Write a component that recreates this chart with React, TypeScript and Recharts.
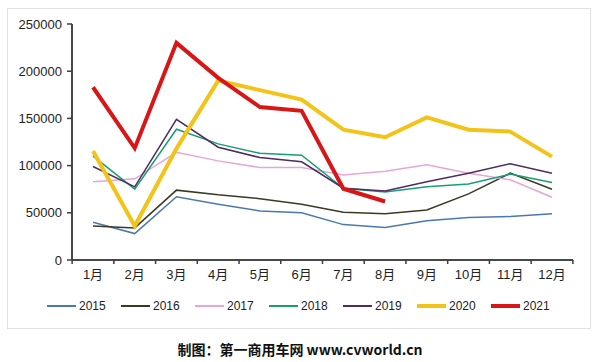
import React from "react";
import { LineChart, Line, XAxis, YAxis, CartesianGrid } from "recharts";

const months = ["1月", "2月", "3月", "4月", "5月", "6月", "7月", "8月", "9月", "10月", "11月", "12月"];

const y2015 = [40000, 28000, 67000, 59000, 52000, 50000, 37500, 34500, 41500, 45000, 46000, 49000];
const y2016 = [36000, 34000, 74000, 69000, 65000, 59000, 50500, 49000, 53000, 70000, 92000, 75000];
const y2017 = [83000, 86000, 114000, 105000, 98000, 98000, 90000, 94000, 101000, 92000, 85000, 66500];
const y2018 = [110000, 75000, 138500, 123000, 113000, 111000, 76000, 72000, 77500, 80500, 91000, 82000];
const y2019 = [99000, 77500, 149000, 119500, 108500, 104000, 76000, 73000, 83000, 92000, 102000, 92000];
const y2020 = [115500, 36000, 118000, 190000, 180000, 170000, 138000, 130000, 151000, 138000, 136000, 109500];
const y2021 = [183000, 118500, 230000, 193000, 162000, 158000, 75500, 62000];

const yTicks = [0, 50000, 100000, 150000, 200000, 250000];

const series = [
  { key: "2015", values: y2015, color: "#4a78b0", width: 1.5 },
  { key: "2016", values: y2016, color: "#3a3a22", width: 1.5 },
  { key: "2017", values: y2017, color: "#e7a6d6", width: 1.5 },
  { key: "2018", values: y2018, color: "#17a06f", width: 1.5 },
  { key: "2019", values: y2019, color: "#4e2b61", width: 1.5 },
  { key: "2020", values: y2020, color: "#f3c318", width: 4 },
  { key: "2021", values: y2021, color: "#d91616", width: 4 },
];

const data = months.map((m, i) => {
  const row: any = { month: m };
  series.forEach((s) => {
    if (i < s.values.length) row[s.key] = s.values[i];
  });
  return row;
});

const font = '"Liberation Sans", "Noto Sans CJK SC", sans-serif';
const AXIS = "#3c3c3c";
const TICK_SIZE = 4;
const TICK_MARGIN = 6;

// month label plus the short tick marks Excel puts between categories
const MonthTick = (props: any) => {
  const { x, y, payload, width, visibleTicksCount, index } = props;
  const half = width / visibleTicksCount / 2;
  const axisY = y - TICK_SIZE - TICK_MARGIN;
  const last = index === visibleTicksCount - 1;
  return (
    <g>
      <line x1={x - half} x2={x - half} y1={axisY} y2={axisY + TICK_SIZE} stroke={AXIS} strokeWidth={1.5} />
      {last && <line x1={x + half} x2={x + half} y1={axisY} y2={axisY + TICK_SIZE} stroke={AXIS} strokeWidth={1.5} />}
      <text x={x} y={y} dy="0.71em" textAnchor="middle" fill="#222" fontSize={13} fontFamily={font}>
        {payload.value}
      </text>
    </g>
  );
};

export default function App() {
  return (
    <div style={{ position: "absolute", left: 0, top: 0, width: 600, height: 362, background: "#fff", fontFamily: font }}>
      <div style={{ position: "absolute", left: 7, top: 8, width: 582, height: 319, border: "1px solid #e2e2e2" }} />
      <div style={{ position: "absolute", left: 0, top: 0 }}>
        <LineChart width={600} height={290} data={data} margin={{ top: 24, right: 27, left: 0, bottom: 0 }}>
          {/* frame lines on the left and bottom edges of the plot, taken from the chart's own offset */}
          <CartesianGrid
            stroke={AXIS}
            strokeWidth={1.5}
            verticalCoordinatesGenerator={({ offset }: any) => [offset.left]}
            horizontalCoordinatesGenerator={({ offset }: any) => [offset.top + offset.height]}
          />
          <XAxis
            dataKey="month"
            height={30}
            padding={{ left: 21, right: 21 }}
            axisLine={{ stroke: AXIS, strokeWidth: 1.5 }}
            tickLine={false}
            tickSize={TICK_SIZE}
            tickMargin={TICK_MARGIN}
            tick={<MonthTick />}
            interval={0}
          />
          <YAxis
            width={72}
            domain={[0, 250000]}
            ticks={yTicks}
            interval={0}
            axisLine={{ stroke: AXIS, strokeWidth: 1.5 }}
            tickLine={{ stroke: AXIS, strokeWidth: 1.5 }}
            tickSize={5}
            tickMargin={5}
            tick={{ fill: "#222", fontSize: 13, fontFamily: font }}
          />
          {series.map((s) => (
            <Line
              key={s.key}
              dataKey={s.key}
              stroke={s.color}
              strokeWidth={s.width}
              dot={false}
              isAnimationActive={false}
              connectNulls={false}
            />
          ))}
        </LineChart>
      </div>
      <div style={{ position: "absolute", left: 47, top: 299, display: "flex", fontSize: 12, color: "#222" }}>
        {series.map((s) => (
          <div key={s.key} style={{ display: "flex", alignItems: "center", width: 74 }}>
            <span style={{ display: "inline-block", width: 29, height: s.width > 2 ? 4 : 2, background: s.color, marginRight: 3 }} />
            <span>{s.key}</span>
          </div>
        ))}
      </div>
      <div style={{ position: "absolute", left: 0, width: 600, top: 339, textAlign: "center", fontSize: 14, fontWeight: "bold", color: "#111", fontFamily: '"Noto Sans CJK SC", sans-serif' }}>
        制图：第一商用车网 www.cvworld.cn
      </div>
    </div>
  );
}
